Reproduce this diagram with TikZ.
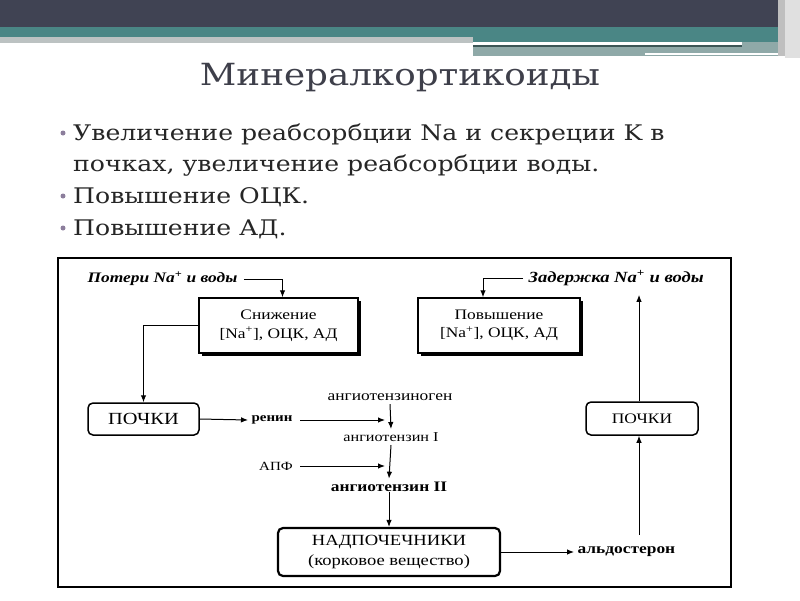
\documentclass[tikz,border=0pt]{standalone}
\usepackage{fontspec}
\setmainfont{DejaVu Serif}[FakeStretch=1.17]
\newfontfamily\diagfont{Liberation Serif}[FakeStretch=1.2]
\usetikzlibrary{arrows.meta,shadows,calc}
\definecolor{topdark}{HTML}{404353}
\definecolor{tealband}{HTML}{4A8685}
\definecolor{greyband}{HTML}{BCC2C2}
\definecolor{greyteal}{HTML}{8FA9A8}
\definecolor{darkline}{HTML}{3C5656}
\definecolor{titlecol}{HTML}{3E3F4A}
\definecolor{bulletcol}{HTML}{8C7E9C}
\newcommand{\fsz}[1]{\fontsize{#1}{#1}\selectfont}
\tikzset{
  sbox/.style={draw, line width=1.5pt, fill=white, align=center, font=\diagfont\fsz{#1},
    drop shadow={shadow xshift=2.5pt, shadow yshift=-2.5pt, opacity=1, fill=black}},
  rbox/.style={draw, line width=1.5pt, rounded corners=5pt, align=center, font=\diagfont\fsz{#1}},
  lbl/.style={font=\diagfont\fsz{#1}},
  blbl/.style={font=\diagfont\bfseries\fsz{#1}},
  ilbl/.style={font=\diagfont\bfseries\itshape\fsz{#1}},
  arr/.style={-{Latex[length=7pt,width=5.5pt]}, line width=1pt},
  bullettext/.style={anchor=base west, inner sep=0pt, font=\fontsize{21.5}{24}\selectfont, text=black!85},
  bdot/.style={circle, fill=bulletcol, inner sep=0pt, minimum size=5pt},
}
\begin{document}
\begin{tikzpicture}[x=1pt,y=-1pt]
\useasboundingbox (0,0) rectangle (800,600);
% header bands
\fill[white] (0,0) rectangle (800,600);
\fill[topdark] (0,0) rectangle (800,27);
\fill[tealband] (0,27) rectangle (800,36.5);
\fill[greyband] (0,36.5) rectangle (473,43);
\fill[tealband] (473,36) rectangle (778,42);
\fill[white] (473,42) rectangle (742,45);
\fill[darkline] (473,45) rectangle (742,47);
\fill[greyteal] (473,47) rectangle (785,56);
\fill[greyteal] (742,42) rectangle (778,47);
\fill[white] (645,52.5) rectangle (785,54.5);
\fill[black!25] (778,0) rectangle (800,56);
\fill[black!12] (785,0) rectangle (800,58);
% title
\node[text=titlecol, font=\fontsize{30.5}{34}\selectfont] (title) at (400,78) {Минералкортикоиды};
% bullets
\node[bdot] (b1) at (63,133) {};
\node[bullettext] (t1) at (73,140) {Увеличение реабсорбции Na и секреции K в};
\node[bullettext] (t1b) at (73,171) {почках, увеличение реабсорбции воды.};
\node[bdot] (b2) at (63,196) {};
\node[bullettext] (t2) at (73,203) {Повышение ОЦК.};
\node[bdot] (b3) at (63,228) {};
\node[bullettext] (t3) at (73,235) {Повышение АД.};
% diagram frame
\draw[line width=1.3pt] (58,258) rectangle (731,587);
% boxes
\node[sbox=14.5, minimum width=159pt, minimum height=55pt] (low) at (278.5,325.5) {Снижение\\[4pt]{}[Na\textsuperscript{+}], ОЦК, АД};
\node[sbox=14.5, minimum width=162pt, minimum height=55pt] (high) at (499,325.5) {Повышение\\[4pt]{}[Na\textsuperscript{+}], ОЦК, АД};
\node[ilbl=14.5, anchor=west] (loss) at (84,279) {Потери Na\textsuperscript{+} и воды};
\node[ilbl=15.5, anchor=west] (hold) at (525,278) {Задержка Na\textsuperscript{+} и воды};
\draw[arr] ([xshift=3pt]loss.east) -| ([xshift=4pt]low.north);
\draw[arr] ([xshift=-2pt]hold.west) -| ([xshift=-16pt]high.north);
\node[rbox=17, minimum width=111pt, minimum height=32pt] (kid1) at (143.5,419) {ПОЧКИ};
\draw[arr] (low.west) -| (kid1.north);
\node[blbl=12.5] (renin) at (272,420) {ренин};
\draw[arr] (kid1.east) -- (renin.west);
\node[lbl=14.5] (agen) at (390,397) {ангиотензиноген};
\node[lbl=13.5] (a1) at (391,437) {ангиотензин I};
\node[lbl=12.5] (apf) at (276,466) {АПФ};
\node[blbl=14.5] (a2) at (389,487) {ангиотензин II};
\coordinate (j1) at (agen.south |- renin.east);
\coordinate (j2) at (agen.south |- apf.east);
\draw[arr] ([xshift=4pt]renin.east) -- ([xshift=-5pt]j1);
\draw[arr] ([xshift=4pt]apf.east) -- ([xshift=-5pt]j2);
\draw[arr] (agen.south) -- (a1.north);
\draw[arr] (a1.south) -- (a2.north);
\node[rbox=15.5, line width=2.2pt, minimum width=222pt, minimum height=48pt] (adr) at (389,552) {НАДПОЧЕЧНИКИ\\[4pt](корковое вещество)};
\draw[arr] ([yshift=3pt]a2.south) -- (adr.north);
\node[blbl=14.5, anchor=west] (ald) at (574,552) {альдостерон};
\draw[arr] (adr.east) -- (ald.west);
\node[rbox=14.5, minimum width=112pt, minimum height=33pt] (kid2) at (642,418.5) {ПОЧКИ};
\coordinate (c1) at (639,535);
\draw[arr] (c1) -- (c1 |- kid2.south);
\draw[arr] (kid2.north -| c1) -- ([yshift=-6pt]c1 |- hold.south);
\end{tikzpicture}
\end{document}
